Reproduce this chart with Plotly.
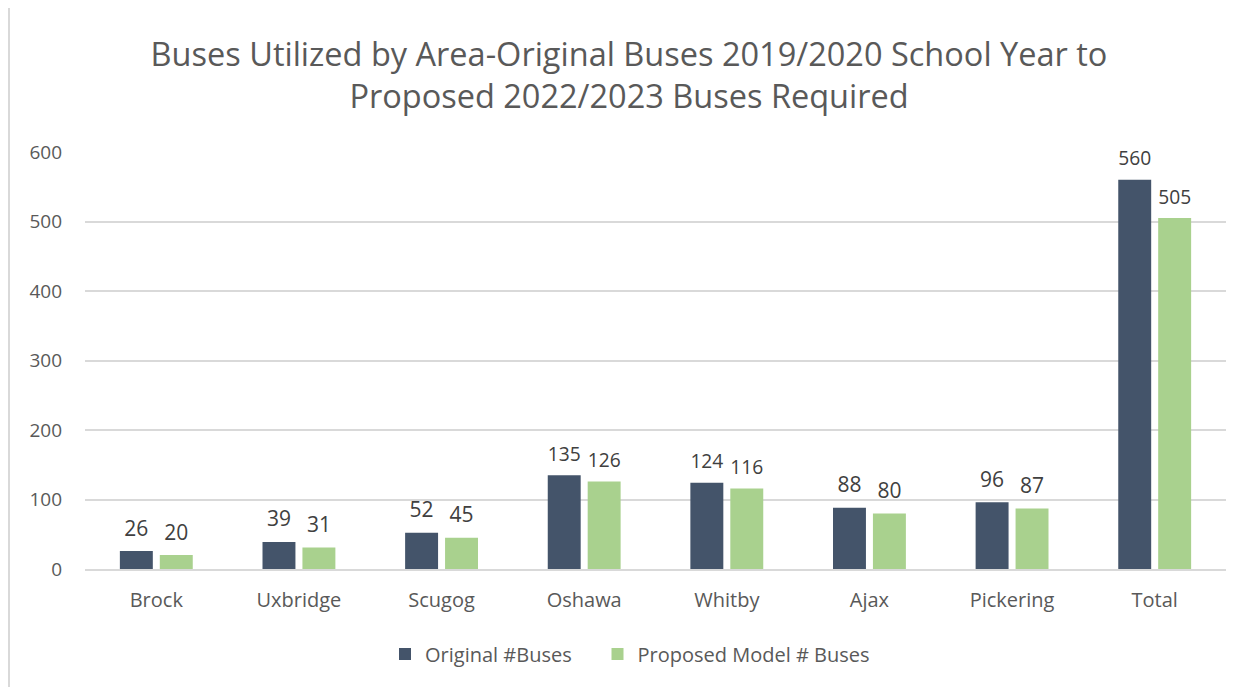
import plotly.graph_objects as go

AREAS = ["Brock", "Uxbridge", "Scugog", "Oshawa", "Whitby", "Ajax", "Pickering", "Total"]
ORIGINAL_BUSES = [26, 39, 52, 135, 124, 88, 96, 560]
PROPOSED_BUSES = [20, 31, 45, 126, 116, 80, 87, 505]
Y_TICKS = [0, 100, 200, 300, 400, 500, 600]

NAVY = "#44546A"
GREEN = "#A9D18E"
GRID = "#D9D9D9"
TEXT = "#595959"
FONT = "Open Sans, sans-serif"

# the page puts the figure 8px in from the top-left corner
OFF = 8
W, H = 1250 - OFF, 687 - OFF
L, R, T, B = 85 - OFF, 24, 152 - OFF, 118
plot_w = W - L - R
plot_h = H - T - B


def px_x(x):
    return (x - OFF - L) / plot_w


def px_y(y):
    return (H - B - (y - OFF)) / plot_h


# small base font + an empty second line lifts the value labels off the bars
LABEL = "<span style='font-size:21px'>%{y}</span><br>\u00a0"

fig = go.Figure()
fig.add_bar(
    x=AREAS, y=ORIGINAL_BUSES, name="Original #Buses\u00a0\u00a0\u00a0\u00a0",
    marker_color=NAVY, texttemplate=LABEL, textposition="outside", cliponaxis=False,
)
fig.add_bar(
    x=AREAS, y=PROPOSED_BUSES, name="Proposed Model # Buses",
    marker_color=GREEN, texttemplate=LABEL, textposition="outside", cliponaxis=False,
)
fig.update_traces(
    textfont=dict(size=8, color="#404040", family=FONT),
    marker_line_width=0,
)

fig.update_layout(
    width=W,
    height=H,
    margin=dict(l=L, r=R, t=T, b=B),
    paper_bgcolor="white",
    plot_bgcolor="white",
    font=dict(family=FONT, color=TEXT, size=19),
    barmode="group",
    bargap=0.44,
    bargroupgap=0.175,
    title=dict(
        text="Buses Utilized by Area-Original Buses 2019/2020 School Year to<br>Proposed 2022/2023 Buses Required",
        x=0.5, xanchor="center", y=1 - 58 / H, yanchor="middle",
        font=dict(size=32.5, color=TEXT, family=FONT),
    ),
    legend=dict(
        orientation="h", x=px_x(630), xanchor="center", y=px_y(654), yanchor="middle",
        font=dict(size=20, color=TEXT), itemwidth=30, traceorder="normal",
    ),
    showlegend=True,
)
fig.update_yaxes(
    range=[0, 600], tickvals=Y_TICKS, gridcolor=GRID, gridwidth=1.5,
    zeroline=False, showline=False, ticks="", ticklabelstandoff=22,
    tickfont=dict(size=19, color=TEXT),
)
fig.update_xaxes(
    showline=True, linecolor=GRID, linewidth=1.5, ticks="",
    tickfont=dict(size=20, color=TEXT), ticklabelstandoff=12,
)
fig.add_shape(
    type="rect", xref="paper", yref="paper",
    x0=px_x(9), x1=px_x(1262), y0=px_y(7), y1=px_y(700),
    line=dict(color=GRID, width=2), layer="below",
)

fig.write_html("out.html")
